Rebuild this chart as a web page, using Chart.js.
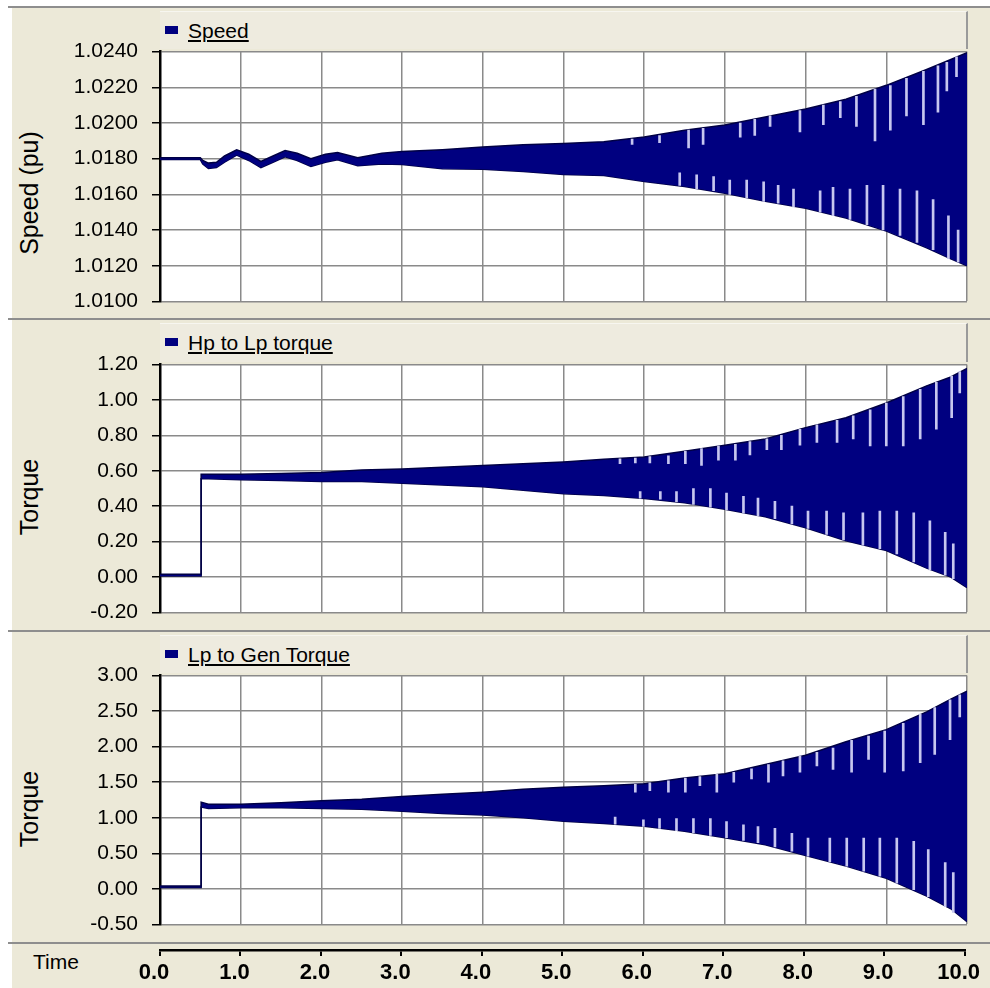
<!DOCTYPE html>
<html>
<head>
<meta charset="utf-8">
<script src="https://cdn.jsdelivr.net/npm/chart.js@4.4.1/dist/chart.umd.min.js"></script>
<style>
  html, body { margin:0; padding:0; }
  body { width:990px; height:988px; position:relative; overflow:hidden; background:#fff; font-family:"Liberation Sans", Arial, sans-serif; }
  .frame { position:absolute; left:12px; top:8px; right:0; bottom:0; background:#ECE9D8; }
  .sep { position:absolute; left:8px; right:0; height:2px; background:#8e8e8e; }
  .head { position:absolute; left:160px; width:808px; background:#EEEBDF; border-right:2px solid #9a9a9a; border-top:1px solid #f7f6f0; box-sizing:border-box; }
  .leg { position:absolute; left:188px; font-size:21px; line-height:24px; color:#000; text-decoration:underline; white-space:nowrap; }
  .sq { position:absolute; left:165px; width:13px; height:8px; background:#000080; }
  .ytitle { position:absolute; left:29px; font-size:25px; color:#000; white-space:nowrap; transform:translate(-50%,-50%) rotate(-90deg); }
  .time { position:absolute; left:33px; top:950px; font-size:21px; color:#000; }
  canvas { position:absolute; left:0; }
</style>
</head>
<body>
<div class="frame"></div>
<div class="sep" style="top:6px"></div>
<div class="sep" style="top:318px"></div>
<div class="sep" style="top:630px"></div>
<div class="sep" style="top:942px"></div>

<div class="head" style="top:11px;height:38px"></div>
<div class="head" style="top:323px;height:39px"></div>
<div class="head" style="top:635px;height:38px"></div>

<div class="sq" style="top:26px"></div><div class="leg" style="top:19px">Speed</div>
<div class="sq" style="top:338px"></div><div class="leg" style="top:331px">Hp to Lp torque</div>
<div class="sq" style="top:650px"></div><div class="leg" style="top:643px">Lp to Gen Torque</div>

<div class="ytitle" style="top:193px">Speed (pu)</div>
<div class="ytitle" style="top:497px">Torque</div>
<div class="ytitle" style="top:809px">Torque</div>
<div class="time">Time</div>

<canvas id="c1" width="990" height="303" style="top:25px"></canvas>
<canvas id="c2" width="990" height="301" style="top:338px"></canvas>
<canvas id="c3" width="990" height="302" style="top:649px"></canvas>
<canvas id="c4" width="990" height="58" style="top:930px"></canvas>

<script>
// envelope of the oscillating traces (s, upper, lower)
const speedTime  = [0, 0.50, 0.53, 0.60, 0.70, 0.80, 0.95, 1.10, 1.25, 1.40, 1.55, 1.70, 1.87, 2.05, 2.20, 2.45, 2.75, 3.0, 3.5, 4.0, 4.5, 5.0, 5.5, 6.0, 6.5, 7.0, 7.5, 8.0, 8.5, 9.0, 9.5, 9.8, 10.0];
const speedUpper = [1.01805, 1.01805, 1.01790, 1.01775, 1.01780, 1.01815, 1.01850, 1.01825, 1.01785, 1.01815, 1.01845, 1.01830, 1.01800, 1.01825, 1.01835, 1.01805, 1.01830, 1.01840, 1.01850, 1.01865, 1.01878, 1.01885, 1.01895, 1.01922, 1.01959, 1.01989, 1.02033, 1.02078, 1.02133, 1.02211, 1.02300, 1.02356, 1.02394];
const speedLower = [1.01795, 1.01795, 1.01770, 1.01745, 1.01750, 1.01780, 1.01820, 1.01790, 1.01750, 1.01780, 1.01810, 1.01790, 1.01756, 1.01780, 1.01794, 1.01760, 1.01770, 1.01767, 1.01744, 1.01740, 1.01728, 1.01711, 1.01705, 1.01672, 1.01644, 1.01606, 1.01561, 1.01522, 1.01467, 1.01394, 1.01300, 1.01239, 1.01200];

const hpLpTime  = [0, 0.51, 0.51, 0.60, 1.0, 1.5, 2.0, 2.5, 3.0, 3.5, 4.0, 4.5, 5.0, 5.5, 6.0, 6.5, 7.0, 7.5, 8.0, 8.5, 9.0, 9.5, 9.8, 10.0];
const hpLpUpper = [0.015, 0.015, 0.58, 0.58, 0.58, 0.585, 0.59, 0.605, 0.61, 0.62, 0.63, 0.64, 0.65, 0.665, 0.678, 0.71, 0.744, 0.78, 0.844, 0.90, 0.983, 1.08, 1.13, 1.178];
const hpLpLower = [0.005, 0.005, 0.555, 0.555, 0.55, 0.545, 0.54, 0.54, 0.53, 0.52, 0.51, 0.49, 0.47, 0.46, 0.444, 0.42, 0.383, 0.34, 0.278, 0.205, 0.15, 0.05, 0.00, -0.06];

const lpGenTime  = [0, 0.51, 0.51, 0.60, 1.0, 1.5, 2.0, 2.5, 3.0, 3.5, 4.0, 4.5, 5.0, 5.5, 6.0, 6.5, 7.0, 7.5, 8.0, 8.5, 9.0, 9.5, 9.8, 10.0];
const lpGenUpper = [0.04, 0.04, 1.22, 1.19, 1.19, 1.21, 1.24, 1.26, 1.30, 1.33, 1.36, 1.40, 1.43, 1.45, 1.48, 1.56, 1.62, 1.75, 1.88, 2.07, 2.24, 2.49, 2.67, 2.78];
const lpGenLower = [0.02, 0.02, 1.15, 1.13, 1.14, 1.14, 1.13, 1.12, 1.09, 1.06, 1.04, 1.00, 0.95, 0.92, 0.88, 0.81, 0.72, 0.62, 0.47, 0.32, 0.15, -0.10, -0.28, -0.46];

// light vertical streaks (sampling artefacts) seen inside the band: time, from, to
const speedStreakT    = [5.85, 6.19, 6.55, 6.73, 7.19, 7.37, 7.56, 7.93, 8.22, 8.43, 8.63, 8.86, 9.05, 9.25, 9.46, 9.64, 9.75, 9.87,
                         6.44, 6.65, 6.86, 7.06, 7.27, 7.48, 7.66, 7.85, 8.18, 8.34, 8.55, 8.76, 8.96, 9.17, 9.38, 9.58, 9.77, 9.89];
const speedStreakFrom = [1.0191, 1.0193, 1.0196, 1.0197, 1.0200, 1.0202, 1.0204, 1.0207, 1.0210, 1.0212, 1.0215, 1.0219, 1.0221, 1.0225, 1.0229, 1.0232, 1.0234, 1.0237,
                         1.0165, 1.0163, 1.0162, 1.0160, 1.0158, 1.0156, 1.0155, 1.0153, 1.0150, 1.0148, 1.0146, 1.0143, 1.0140, 1.0137, 1.0133, 1.0129, 1.0124, 1.0122];
const speedStreakTo   = [1.0188, 1.0189, 1.0186, 1.0188, 1.0192, 1.0193, 1.0198, 1.0195, 1.0199, 1.0203, 1.0198, 1.0190, 1.0196, 1.0204, 1.0199, 1.0206, 1.0218, 1.0226,
                         1.0172, 1.0171, 1.0170, 1.0168, 1.0168, 1.0167, 1.0165, 1.0163, 1.0162, 1.0164, 1.0163, 1.0165, 1.0165, 1.0163, 1.0162, 1.0157, 1.0148, 1.0140];

const hpLpStreakT    = [5.70, 5.89, 6.07, 6.30, 6.51, 6.71, 6.92, 7.13, 7.31, 7.52, 7.70, 7.93, 8.14, 8.39, 8.59, 8.80, 9.00, 9.21, 9.42, 9.62, 9.81, 9.91,
                        5.95, 6.20, 6.40, 6.61, 6.82, 7.02, 7.23, 7.41, 7.62, 7.83, 8.03, 8.26, 8.47, 8.71, 8.92, 9.13, 9.34, 9.54, 9.73, 9.83];
const hpLpStreakFrom = [0.668, 0.672, 0.68, 0.685, 0.71, 0.725, 0.74, 0.75, 0.765, 0.78, 0.80, 0.835, 0.86, 0.885, 0.91, 0.945, 0.983, 1.02, 1.06, 1.10, 1.135, 1.16,
                        0.445, 0.44, 0.425, 0.41, 0.395, 0.38, 0.36, 0.345, 0.33, 0.30, 0.275, 0.24, 0.21, 0.18, 0.16, 0.13, 0.085, 0.04, 0.01, -0.01];
const hpLpStreakTo   = [0.64, 0.645, 0.645, 0.64, 0.64, 0.63, 0.66, 0.66, 0.69, 0.72, 0.72, 0.745, 0.76, 0.76, 0.78, 0.74, 0.74, 0.74, 0.78, 0.835, 0.90, 1.04,
                        0.483, 0.483, 0.483, 0.50, 0.50, 0.474, 0.456, 0.446, 0.428, 0.40, 0.372, 0.372, 0.363, 0.363, 0.372, 0.372, 0.363, 0.317, 0.252, 0.187];

const lpGenStreakT    = [5.89, 6.07, 6.30, 6.51, 6.69, 6.90, 7.11, 7.33, 7.54, 7.72, 7.93, 8.14, 8.34, 8.57, 8.78, 8.98, 9.21, 9.42, 9.60, 9.79, 9.91,
                         5.64, 5.99, 6.19, 6.40, 6.61, 6.82, 7.02, 7.23, 7.41, 7.62, 7.83, 8.03, 8.30, 8.51, 8.72, 8.92, 9.13, 9.34, 9.52, 9.73, 9.83];
const lpGenStreakFrom = [1.47, 1.49, 1.52, 1.56, 1.58, 1.61, 1.64, 1.69, 1.75, 1.80, 1.87, 1.92, 1.98, 2.09, 2.15, 2.22, 2.33, 2.46, 2.55, 2.66, 2.73,
                         0.91, 0.88, 0.85, 0.82, 0.79, 0.75, 0.72, 0.68, 0.65, 0.59, 0.53, 0.46, 0.38, 0.32, 0.25, 0.18, 0.08, -0.01, -0.11, -0.25, -0.33];
const lpGenStreakTo   = [1.36, 1.38, 1.36, 1.36, 1.45, 1.36, 1.50, 1.545, 1.50, 1.59, 1.64, 1.73, 1.68, 1.64, 1.82, 1.64, 1.66, 1.775, 1.89, 2.10, 2.42,
                         1.01, 0.97, 0.99, 0.99, 0.99, 0.99, 0.945, 0.90, 0.875, 0.85, 0.78, 0.715, 0.715, 0.715, 0.715, 0.715, 0.715, 0.67, 0.553, 0.37, 0.23];

const timeTicks  = [0, 1, 2, 3, 4, 5, 6, 7, 8, 9, 10];
const speedTicks = [1.0100, 1.0120, 1.0140, 1.0160, 1.0180, 1.0200, 1.0220, 1.0240];
const hpLpTicks  = [-0.20, 0.00, 0.20, 0.40, 0.60, 0.80, 1.00, 1.20];
const lpGenTicks = [-0.50, 0.00, 0.50, 1.00, 1.50, 2.00, 2.50, 3.00];

const NAVY = '#000080';
const EDGE = '#000045';
const STREAK = '#c6c6ef';
const GRID = '#8a8a8a';
const FONT = '"Liberation Sans", Arial, sans-serif';

const plotBg = {
  id: 'plotBg',
  beforeDraw(c) {
    const a = c.chartArea, ctx = c.ctx;
    ctx.save();
    ctx.fillStyle = '#fff';
    ctx.fillRect(a.left, a.top, a.right - a.left, a.bottom - a.top);
    ctx.restore();
  }
};

function pts(xs, ys) { return xs.map((x, i) => ({ x: x, y: ys[i] })); }
function spans(xs, a, b) { return xs.map((x, i) => ({ x: x, y: [a[i], b[i]] })); }

function panel(id, t, up, lo, st, sa, sb, ticks, digits) {
  new Chart(document.getElementById(id), {
    type: 'line',
    data: {
      datasets: [
        { type: 'bar', data: spans(st, sa, sb), backgroundColor: STREAK, barThickness: 2, grouped: false, order: -1 },
        { data: pts(t, up), borderColor: EDGE, borderWidth: 1.5, backgroundColor: NAVY, fill: '+1', pointRadius: 0, tension: 0 },
        { data: pts(t, lo), borderColor: EDGE, borderWidth: 1.5, fill: false, pointRadius: 0, tension: 0 }
      ]
    },
    options: {
      responsive: false, animation: false, devicePixelRatio: 1,
      layout: { padding: { left: 0, right: 23, top: 15, bottom: 15 } },
      plugins: { legend: { display: false }, tooltip: { enabled: false } },
      scales: {
        x: {
          type: 'linear', min: 0, max: 10, offset: false,
          afterBuildTicks: s => { s.ticks = timeTicks.map(v => ({ value: v })); },
          afterFit: s => { s.height = 0; },
          ticks: { display: false },
          grid: { color: GRID, lineWidth: 1.5, drawTicks: false, offset: false },
          border: { display: false }
        },
        y: {
          min: ticks[0], max: ticks[ticks.length - 1],
          afterBuildTicks: s => { s.ticks = ticks.map(v => ({ value: v })); },
          afterFit: s => { s.width = 160; },
          ticks: { callback: v => v.toFixed(digits), color: '#000', padding: 14, font: { family: FONT, size: 21 } },
          grid: { color: GRID, lineWidth: 1.5, tickColor: '#000', tickLength: 8 },
          border: { color: '#000', width: 2.5 }
        }
      }
    },
    plugins: [plotBg]
  });
}

panel('c1', speedTime, speedUpper, speedLower, speedStreakT, speedStreakFrom, speedStreakTo, speedTicks, 4);
panel('c2', hpLpTime, hpLpUpper, hpLpLower, hpLpStreakT, hpLpStreakFrom, hpLpStreakTo, hpLpTicks, 2);
panel('c3', lpGenTime, lpGenUpper, lpGenLower, lpGenStreakT, lpGenStreakFrom, lpGenStreakTo, lpGenTicks, 2);

// shared time axis at the bottom
new Chart(document.getElementById('c4'), {
  type: 'line',
  data: { datasets: [] },
  options: {
    responsive: false, animation: false, devicePixelRatio: 1,
    layout: { padding: { left: 160, right: 23, top: 19, bottom: 0 } },
    plugins: { legend: { display: false }, tooltip: { enabled: false } },
    scales: {
      x: {
        type: 'linear', min: 0, max: 10, position: 'bottom',
        afterBuildTicks: s => { s.ticks = timeTicks.map(v => ({ value: v })); },
        afterFit: s => { s.height = 38; },
        ticks: { callback: v => v.toFixed(1), color: '#000', padding: 4, labelOffset: -6, maxRotation: 0, font: { family: FONT, size: 22, weight: 'bold' } },
        grid: { drawOnChartArea: false, drawTicks: true, tickLength: 6, tickColor: '#000', lineWidth: 2 },
        border: { color: '#000', width: 2.5 }
      },
      y: { display: false }
    }
  }
});
</script>
</body>
</html>
